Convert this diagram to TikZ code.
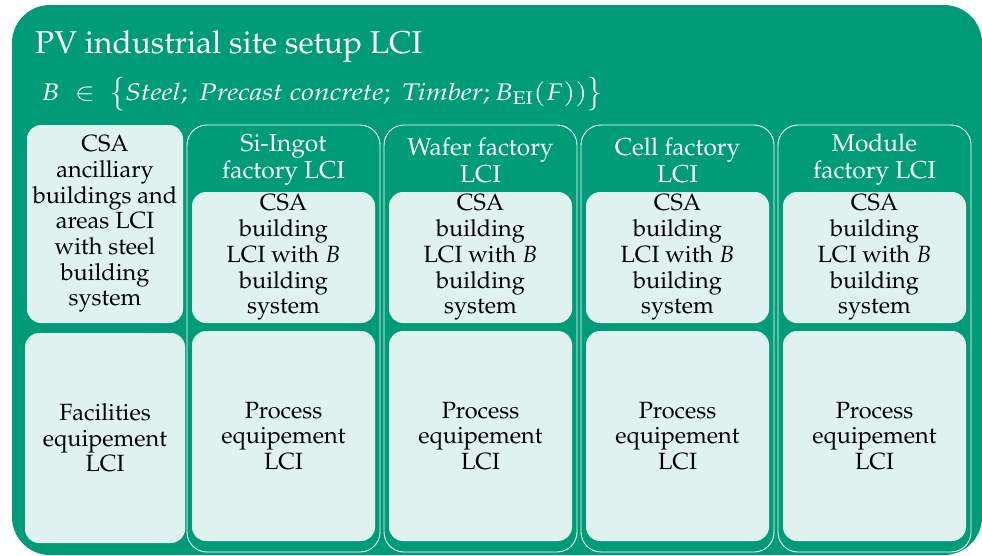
\documentclass[tikz,border=0pt]{standalone}
\usepackage[T1]{fontenc}
\usepackage{mathpazo}
\usepackage{graphicx}
\definecolor{pvgreen}{RGB}{0,155,119}
\definecolor{pvlight}{RGB}{224,242,239}
\tikzset{site/.style={fill=pvgreen, rounded corners=38pt}}
\tikzset{factory/.style={draw=white, line width=.9pt, rounded corners=20pt,
  minimum width=193pt, minimum height=427pt, inner sep=0pt}}
\tikzset{heading/.style={white, align=center, font=\fontsize{24.5}{27}\selectfont}}
\tikzset{lci/.style={fill=pvlight, rounded corners=14pt, align=center,
  inner sep=0pt, font=\fontsize{23.5}{25.7}\selectfont}}
\newcommand{\tallbrace}[1]{\raisebox{-.25ex}{\scalebox{1}[1.35]{$#1$}}}

\begin{document}
\begin{tikzpicture}[x=1pt, y=-1pt]
    \useasboundingbox (0, 0) rectangle (982, 555);
    \fill[site] (12, 5) rectangle (982, 555);
    \node[white, anchor=base west, inner sep=0pt, font=\fontsize{31.6}{36}\selectfont] (site) at (35, 53) {PV industrial site setup LCI};
    \node[white, anchor=base west, inner sep=0pt, font=\fontsize{24}{28}\selectfont] (bset) at (41, 100)
        {\scalebox{1.18}[1]{$B\ \in\ \tallbrace{\{}\mathit{Steel};\ \mathit{Precast\ concrete};\ \mathit{Timber}; B_{\mathrm{EI}}(F))\tallbrace{\}}$}};
    % ancillary column
    \node[lci, minimum width=156pt, minimum height=198pt] (anc) at (105, 224)
        {CSA\\ancilliary\\buildings and\\areas LCI\\with steel\\building\\system};
    \node[lci, minimum width=160pt, minimum height=210pt] (facil) at (105, 438)
        {Facilities\\equipement\\LCI};
    % factories
    \foreach \i/\ttl in {0/{Si-Ingot\\factory LCI}, 1/{Wafer factory\\LCI}, 2/{Cell factory\\LCI}, 3/{Module\\factory LCI}}{
        \node[factory] (fac\i) at (283.5+197*\i, 338.5) {};
        \node[heading] (ttl\i) at (283.5+197*\i, 160) {\ttl};
        \node[lci, minimum width=183pt, minimum height=131pt] (csa\i) at (283.5+197*\i, 257.5)
            {CSA\\building\\LCI with $B$\\building\\system};
        \node[lci, minimum width=183pt, minimum height=210pt] (proc\i) at (283.5+197*\i, 436)
            {Process\\equipement\\LCI};
    }
\end{tikzpicture}
\end{document}
